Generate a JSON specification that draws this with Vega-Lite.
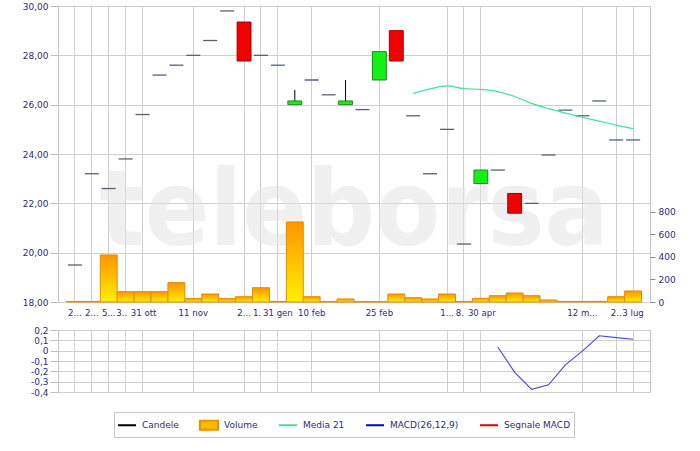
{
  "$schema": "https://vega.github.io/schema/vega-lite/v6.json",
  "padding": {"left": 21, "top": 1, "right": 5, "bottom": 5},
  "background": "white",
  "spacing": 7,
  "config": {
    "font": "DejaVu Sans",
    "view": {"stroke": "#c4c4c4"},
    "axis": {"labelFont": "DejaVu Sans", "labelFontSize": 9, "labelColor": "#2e2e6e", "gridColor": "#cfcfcf", "tickColor": "#c0c0c0", "domain": false, "title": null},
    "legend": {"labelFont": "DejaVu Sans", "labelFontSize": 9, "labelColor": "#2e2e6e", "symbolOpacity": 1}
  },
  "datasets": {
    "main": [
      {"i":1,"o":19.5,"c":19.5,"h":19.5,"l":19.5,"v":5},
      {"i":2,"o":23.2,"c":23.2,"h":23.2,"l":23.2,"v":5},
      {"i":3,"o":22.6,"c":22.6,"h":22.6,"l":22.6,"v":418},
      {"i":4,"o":23.8,"c":23.8,"h":23.8,"l":23.8,"v":92},
      {"i":5,"o":25.6,"c":25.6,"h":25.6,"l":25.6,"v":92},
      {"i":6,"o":27.2,"c":27.2,"h":27.2,"l":27.2,"v":92},
      {"i":7,"o":27.6,"c":27.6,"h":27.6,"l":27.6,"v":172},
      {"i":8,"o":28.0,"c":28.0,"h":28.0,"l":28.0,"v":30},
      {"i":9,"o":28.6,"c":28.6,"h":28.6,"l":28.6,"v":71},
      {"i":10,"o":29.8,"c":29.8,"h":29.8,"l":29.8,"v":30},
      {"i":11,"o":29.35,"c":27.77,"h":29.35,"l":27.77,"v":47},
      {"i":12,"o":28.0,"c":28.0,"h":28.0,"l":28.0,"v":127},
      {"i":13,"o":27.6,"c":27.6,"h":27.6,"l":27.6,"v":5},
      {"i":14,"o":26.0,"c":26.15,"h":26.6,"l":26.0,"v":712},
      {"i":15,"o":27.0,"c":27.0,"h":27.0,"l":27.0,"v":47},
      {"i":16,"o":26.4,"c":26.4,"h":26.4,"l":26.4,"v":3},
      {"i":17,"o":26.0,"c":26.15,"h":27.0,"l":26.0,"v":27},
      {"i":18,"o":25.8,"c":25.8,"h":25.8,"l":25.8,"v":3},
      {"i":19,"o":27.0,"c":28.15,"h":28.15,"l":27.0,"v":3},
      {"i":20,"o":29.0,"c":27.77,"h":29.0,"l":27.77,"v":71},
      {"i":21,"o":25.55,"c":25.55,"h":25.55,"l":25.55,"v":38,"ma":26.45},
      {"i":22,"o":23.2,"c":23.2,"h":23.2,"l":23.2,"v":27,"ma":26.64},
      {"i":23,"o":25.0,"c":25.0,"h":25.0,"l":25.0,"v":71,"ma":26.76},
      {"i":24,"o":20.35,"c":20.35,"h":20.35,"l":20.35,"v":5,"ma":26.65},
      {"i":25,"o":22.8,"c":23.35,"h":23.35,"l":22.8,"v":33,"ma":26.62},
      {"i":26,"o":23.35,"c":23.35,"h":23.35,"l":23.35,"v":56,"ma":26.53,"m":0.035},
      {"i":27,"o":22.4,"c":21.6,"h":22.4,"l":21.6,"v":80,"ma":26.33,"m":-0.21},
      {"i":28,"o":22.0,"c":22.0,"h":22.0,"l":22.0,"v":56,"ma":26.05,"m":-0.374},
      {"i":29,"o":23.96,"c":23.96,"h":23.96,"l":23.96,"v":18,"ma":25.84,"m":-0.33},
      {"i":30,"o":25.78,"c":25.78,"h":25.78,"l":25.78,"v":5,"ma":25.66,"m":-0.138},
      {"i":31,"o":25.55,"c":25.55,"h":25.55,"l":25.55,"v":5,"ma":25.49,"m":-0.004},
      {"i":32,"o":26.15,"c":26.15,"h":26.15,"l":26.15,"v":5,"ma":25.33,"m":0.144},
      {"i":33,"o":24.57,"c":24.57,"h":24.57,"l":24.57,"v":47,"ma":25.17,"m":0.126},
      {"i":34,"o":24.57,"c":24.57,"h":24.57,"l":24.57,"v":98,"ma":25.03,"m":0.111}
    ],
    "legend": [
      {"s":"Candele"},{"s":"Volume"},{"s":"Media 21"},{"s":"MACD(26,12,9)"},{"s":"Segnale MACD"}
    ],
    "mark": [{"w":"teleborsa"}]
  },
  "vconcat": [
    {
      "width": 592,
      "height": 296,
      "layer": [
        {
          "layer": [
            {
              "data": {"name": "mark"},
              "mark": {"type": "text", "font": "DejaVu Sans Condensed, sans-serif", "fontWeight": "bold", "fontSize": 106, "color": "#e4e4e4", "opacity": 0.55, "baseline": "alphabetic", "align": "center"},
              "encoding": {
                "text": {"field": "w"},
                "y": {"datum": 20.3, "type": "quantitative", "scale": {"domain": [18, 30], "nice": false, "zero": false}, "axis": {"values": [18,20,22,24,26,28,30], "labelExpr": "replace(format(datum.value, '.2f'), '.', ',')", "grid": true, "tickSize": 8, "labelPadding": 2}}
              }
            },
            {
              "data": {"name": "main"},
              "transform": [{"filter": "datum.h != datum.l"}],
              "mark": {"type": "rule", "color": "#000000", "strokeWidth": 1},
              "encoding": {
                "x": {"field": "i", "type": "ordinal", "scale": {"type": "band", "domain": [1,2,3,4,5,6,7,8,9,10,11,12,13,14,15,16,17,18,19,20,21,22,23,24,25,26,27,28,29,30,31,32,33,34], "paddingInner": 0, "paddingOuter": 0.5}, "axis": {"values": [1,2,3,4,5,8,11,12,13,15,19,23,24,25,31,33,34], "labelExpr": "{'1':'2...','2':'2...','3':'5...','4':'3..','5':'31 ott','8':'11 nov','11':'2...','12':'1.','13':'31 gen','15':'10 feb','19':'25 feb','23':'1...','24':'8.','25':'30 apr','31':'12 m...','33':'2..','34':'3 lug'}[datum.value]", "labelOffset": {"condition": [{"test": "indexof([4,12,24], datum.value) >= 0", "value": -4}, {"test": "indexof([5,25], datum.value) >= 0", "value": 1}], "value": 0}, "labelFontSize": 8.6, "grid": true, "ticks": false, "tickSize": 0, "labelPadding": 6, "labelAngle": 0, "labelOverlap": false, "tickBand": "center"}},
                "y": {"field": "l", "type": "quantitative", "scale": {"domain": [18, 30], "nice": false, "zero": false}, "axis": {"values": [18,20,22,24,26,28,30], "labelExpr": "replace(format(datum.value, '.2f'), '.', ',')", "grid": true, "tickSize": 8, "labelPadding": 2}},
                "y2": {"field": "h"}
              }
            },
            {
              "data": {"name": "main"},
              "transform": [{"filter": "datum.o != datum.c"}],
              "mark": {"type": "bar", "width": {"band": 0.82}, "strokeWidth": 1},
              "encoding": {
                "x": {"field": "i", "type": "ordinal"},
                "y": {"field": "o", "type": "quantitative"},
                "y2": {"field": "c"},
                "fill": {"condition": {"test": "datum.c > datum.o", "value": "#14f014"}, "value": "#f00000"},
                "stroke": {"condition": {"test": "datum.c > datum.o", "value": "#1a8a1a"}, "value": "#a00000"}
              }
            },
            {
              "data": {"name": "main"},
              "transform": [{"filter": "datum.o == datum.c"}],
              "mark": {"type": "tick", "size": 14, "thickness": 1.3, "color": "#56627a", "opacity": 1},
              "encoding": {
                "x": {"field": "i", "type": "ordinal"},
                "y": {"field": "o", "type": "quantitative"}
              }
            },
            {
              "data": {"name": "main"},
              "transform": [{"filter": "isValid(datum.ma)"}],
              "mark": {"type": "line", "color": "#3fe39a", "strokeWidth": 1.2, "interpolate": "monotone"},
              "encoding": {
                "x": {"field": "i", "type": "ordinal"},
                "y": {"field": "ma", "type": "quantitative"}
              }
            }
          ]
        },
        {
          "data": {"name": "main"},
          "mark": {"type": "bar", "stroke": "#e58a00", "strokeWidth": 1, "fill": {"gradient": "linear", "x1": 0, "y1": 0, "x2": 0, "y2": 1, "stops": [{"offset": 0, "color": "#ff9400"}, {"offset": 1, "color": "#fff000"}]}},
          "encoding": {
            "x": {"field": "i", "type": "ordinal"},
            "y": {"field": "v", "type": "quantitative", "scale": {"domain": [0, 2631], "nice": false}, "axis": {"orient": "right", "values": [0,200,400,600,800], "grid": false, "tickSize": 5, "tickColor": "#8a8a8a", "labelPadding": 3}}
          }
        }
      ],
      "resolve": {"scale": {"y": "independent"}}
    },
    {
      "width": 592,
      "height": 62,
      "layer": [
        {
          "data": {"name": "main"},
          "transform": [{"filter": "isValid(datum.m)"}],
          "mark": {"type": "line", "color": "#4848d8", "strokeWidth": 1.1},
          "encoding": {
            "x": {"field": "i", "type": "ordinal", "scale": {"type": "band", "domain": [1,2,3,4,5,6,7,8,9,10,11,12,13,14,15,16,17,18,19,20,21,22,23,24,25,26,27,28,29,30,31,32,33,34], "paddingInner": 0, "paddingOuter": 0.5}, "axis": {"values": [1,2,3,4,5,8,11,12,13,15,19,23,24,25,31,33,34], "labels": false, "grid": true, "ticks": false, "tickSize": 0, "tickBand": "center"}},
            "y": {"field": "m", "type": "quantitative", "scale": {"domain": [-0.4, 0.2], "nice": false, "zero": false}, "axis": {"values": [-0.4,-0.3,-0.2,-0.1,0,0.1,0.2], "labelExpr": "replace(replace(format(datum.value, '.1~f'), '.', ','), '\u2212', '-')", "grid": true, "tickSize": 8, "labelPadding": 2, "labelOverlap": false}}
          }
        },
        {
          "data": {"name": "legend"},
          "transform": [{"filter": "false"}],
          "mark": {"type": "point", "filled": false},
          "encoding": {
            "stroke": {"field": "s", "type": "nominal", "scale": {"domain": ["Candele","Volume","Media 21","MACD(26,12,9)","Segnale MACD"], "range": ["#000000","#f09000","#3fe39a","#0000c8","#e00000"]}, "legend": {"orient": "none", "legendX": 56, "legendY": 406, "direction": "horizontal", "title": null, "symbolSize": 324, "symbolStrokeWidth": 2, "labelOffset": 5, "columnPadding": 17, "padding": 3, "strokeColor": "#c6c6c6", "fillColor": "#ffffff"}},
            "fill": {"field": "s", "type": "nominal", "scale": {"domain": ["Candele","Volume","Media 21","MACD(26,12,9)","Segnale MACD"], "range": ["#000000","#ffb800","#3fe39a","#0000c8","#e00000"]}, "legend": {"orient": "none", "legendX": 56, "legendY": 406, "direction": "horizontal", "title": null, "symbolSize": 324, "symbolStrokeWidth": 2, "labelOffset": 5, "columnPadding": 17, "padding": 3, "strokeColor": "#c6c6c6", "fillColor": "#ffffff"}},
            "shape": {"field": "s", "type": "nominal", "scale": {"domain": ["Candele","Volume","Media 21","MACD(26,12,9)","Segnale MACD"], "range": ["M-1,0H1M0,-0.5L0,-0.5M0,0.5L0,0.5","M-1,-0.5H1V0.5H-1Z","M-1,0H1M0,-0.5L0,-0.5M0,0.5L0,0.5","M-1,0H1M0,-0.5L0,-0.5M0,0.5L0,0.5","M-1,0H1M0,-0.5L0,-0.5M0,0.5L0,0.5"]}, "legend": {"orient": "none", "legendX": 56, "legendY": 406, "direction": "horizontal", "title": null, "symbolSize": 324, "symbolStrokeWidth": 2, "labelOffset": 5, "columnPadding": 17, "padding": 3, "strokeColor": "#c6c6c6", "fillColor": "#ffffff"}}
          }
        }
      ]
    }
  ]
}
